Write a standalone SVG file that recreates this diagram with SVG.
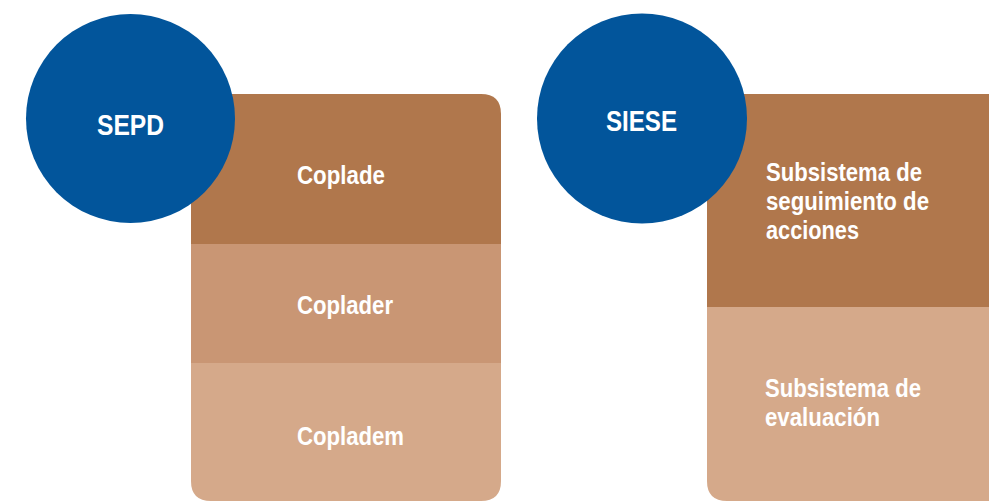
<svg xmlns="http://www.w3.org/2000/svg" width="989" height="501" viewBox="0 0 989 501">
<style>
.t{font-family:"Liberation Sans",Arial,sans-serif;font-weight:bold;fill:#fff;font-size:26px}
.h{font-size:30px}
.c{fill:#02559B}
.d{fill:#B0774C}
.m{fill:#C99674}
.l{fill:#D5A98A}
</style>
<defs>
<clipPath id="cp1"><path d="M191,94 H481 Q501,94 501,114 V481 Q501,501 481,501 H211 Q191,501 191,481 Z"/></clipPath>
<clipPath id="cp2"><path d="M707,94 H1010 V501 H727 Q707,501 707,481 Z"/></clipPath>
</defs>
<g id="connectors"/>
<g id="sepd-stack">
<g id="coplade" clip-path="url(#cp1)">
<rect class="d" x="191" y="94" width="310" height="150"/>
<rect class="m" x="191" y="244" width="310" height="119"/>
<rect class="l" x="191" y="363" width="310" height="140"/>
</g>
<text class="t" x="297" y="184" textLength="88" lengthAdjust="spacingAndGlyphs">Coplade</text>
<text class="t" x="297" y="314" textLength="96" lengthAdjust="spacingAndGlyphs">Coplader</text>
<text class="t" x="297" y="445" textLength="107" lengthAdjust="spacingAndGlyphs">Copladem</text>
</g>
<g id="sepd">
<circle class="c" cx="130.5" cy="118.5" r="104.5"/>
<text class="t h" x="97" y="135" textLength="67" lengthAdjust="spacingAndGlyphs">SEPD</text>
</g>
<g id="siese-stack">
<g clip-path="url(#cp2)">
<rect class="d" x="707" y="94" width="303" height="213"/>
<rect class="l" x="707" y="307" width="303" height="196"/>
</g>
<text class="t" x="766" y="181" textLength="156" lengthAdjust="spacingAndGlyphs">Subsistema de</text>
<text class="t" x="766" y="210" textLength="163" lengthAdjust="spacingAndGlyphs">seguimiento de</text>
<text class="t" x="766" y="239" textLength="93" lengthAdjust="spacingAndGlyphs">acciones</text>
<text class="t" x="765" y="397" textLength="156" lengthAdjust="spacingAndGlyphs">Subsistema de</text>
<text class="t" x="765" y="426" textLength="115" lengthAdjust="spacingAndGlyphs">evaluación</text>
</g>
<g id="siese">
<circle class="c" cx="642" cy="118.5" r="105"/>
<text class="t h" x="606" y="131" textLength="71" lengthAdjust="spacingAndGlyphs">SIESE</text>
</g>
</svg>
